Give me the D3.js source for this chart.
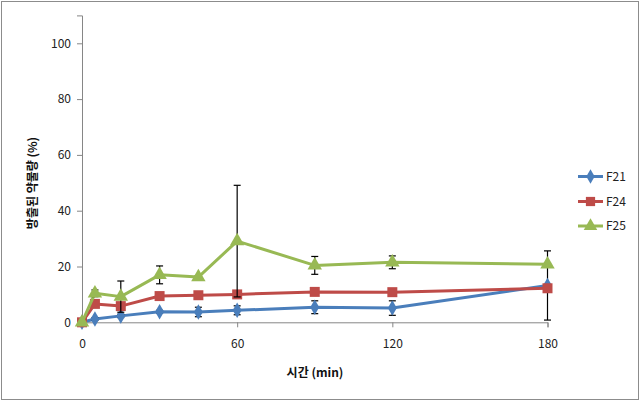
<!DOCTYPE html>
<html><head><meta charset="utf-8">
<script src="https://cdn.jsdelivr.net/npm/d3@7"></script>
<style>body{margin:0;background:#fff}svg{display:block}</style>
</head><body><svg id="c" width="642" height="403"></svg>
<script>
const times = [0, 5, 15, 30, 45, 60, 90, 120, 180];
const seriesNames = ["F21", "F24", "F25"];
const f21 = [0, 1.2, 2.3, 3.8, 3.7, 4.3, 5.4, 5.1, 13.2];
const f21Err = [0, 0.5, 0.6, 0.5, 1.7, 1.6, 2.3, 2.6, 12.4];
const f24 = [0, 6.6, 5.8, 9.4, 9.7, 10.0, 10.9, 10.8, 12.2];
const f24Err = [0, 0.8, 1.0, 0.8, 0.8, 0.9, 0.8, 0.8, 0.5];
const f25 = [0, 10.4, 9.2, 17.0, 16.2, 29.1, 20.4, 21.5, 20.8];
const f25Err = [0, 1.2, 5.6, 3.2, 0.5, 20.0, 3.2, 2.3, 0.5];
const xTicks = [0, 60, 120, 180];
const yTicks = [0, 20, 40, 60, 80, 100];
const colors = ["#4a7ebb", "#be4b48", "#98b954"];
const shapes = [d3.symbolDiamond, d3.symbolSquare, d3.symbolTriangle];
const yTitle = "방출된 약물량 (%)";
const xTitle = "시간 (min)";

const svg = d3.select("#c");
const font = "'Noto Sans CJK KR', 'Noto Sans', sans-serif";
svg.append("rect").attr("x",1.5).attr("y",1.5).attr("width",637).attr("height",398)
  .attr("fill","#fff").attr("stroke","#8c8c8c").attr("stroke-width",1);

const x = d3.scaleLinear().domain([0,180]).range([82,547.5]);
const y = d3.scaleLinear().domain([0,110]).range([322.3,15.4]);

const axisColor = "#868686";
const gx = svg.append("g").attr("transform",`translate(0,${y(0)})`)
  .call(d3.axisBottom(x).tickValues(xTicks).tickSize(5).tickPadding(12));
const gy = svg.append("g").attr("transform",`translate(${x(0)},0)`)
  .call(d3.axisLeft(y).tickValues(yTicks).tickSize(5).tickPadding(6));
[gx,gy].forEach(g=>{
  g.select(".domain").attr("stroke",axisColor).attr("stroke-width",1);
  g.selectAll(".tick line").attr("stroke",axisColor);
  g.selectAll(".tick text").attr("fill","#222").style("font-family",font).style("font-size","12px");
});

const data = [
  {name: seriesNames[0], vals: f21, err: f21Err},
  {name: seriesNames[1], vals: f24, err: f24Err},
  {name: seriesNames[2], vals: f25, err: f25Err}
];

const line = d3.line().x(d=>x(d[0])).y(d=>y(d[1]));
data.forEach((s,i)=>{
  const pts = times.map((t,j)=>[t, s.vals[j], s.err[j]]);
  const g = svg.append("g");
  g.append("path").attr("d", line(pts)).attr("fill","none")
    .attr("stroke",colors[i]).attr("stroke-width",3).attr("stroke-linejoin","round");
  const eb = g.append("g").attr("stroke","#000").attr("stroke-width",1.2);
  pts.filter(p=>p[2]>0).forEach(p=>{
    const cx = x(p[0]);
    const y1 = y(p[1]+p[2]), y2 = y(Math.max(p[1]-p[2], -0.2));
    eb.append("line").attr("x1",cx).attr("x2",cx).attr("y1",y1).attr("y2",y2);
    eb.append("line").attr("x1",cx-3.5).attr("x2",cx+3.5).attr("y1",y1).attr("y2",y1);
    eb.append("line").attr("x1",cx-3.5).attr("x2",cx+3.5).attr("y1",y2).attr("y2",y2);
  });
  const sizes = [70, 100, 90];
  g.selectAll("path.m").data(pts).enter().append("path").attr("class","m")
    .attr("transform",p=>`translate(${x(p[0])},${y(p[1])})`)
    .attr("d", d3.symbol().type(shapes[i]).size(sizes[i]))
    .attr("fill",colors[i]);
});

// legend
const ly = [176.5, 201.5, 226];
data.forEach((s,i)=>{
  const g = svg.append("g");
  g.append("line").attr("x1",578).attr("x2",603).attr("y1",ly[i]).attr("y2",ly[i])
    .attr("stroke",colors[i]).attr("stroke-width",3);
  g.append("path").attr("transform",`translate(590.5,${ly[i]})`)
    .attr("d", d3.symbol().type(shapes[i]).size([60,85,80][i])).attr("fill",colors[i]);
  g.append("text").attr("x",606).attr("y",ly[i]).attr("dy","0.35em")
    .style("font-family",font).style("font-size","12px").attr("fill","#222").text(s.name);
});

svg.append("text").attr("transform","translate(33,183) rotate(-90)")
  .attr("text-anchor","middle").attr("dy","0.35em")
  .style("font-family",font).style("font-size","12px").style("font-weight","bold")
  .attr("fill","#111").text(yTitle);
svg.append("text").attr("x",315).attr("y",377).attr("text-anchor","middle")
  .style("font-family",font).style("font-size","12px").style("font-weight","bold")
  .attr("fill","#111").text(xTitle);
</script></body></html>
